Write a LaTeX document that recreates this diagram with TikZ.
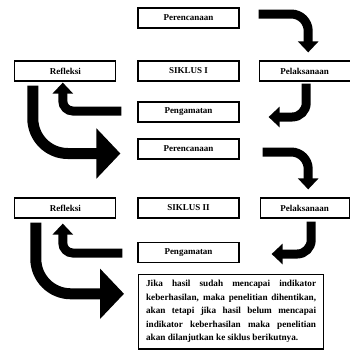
\documentclass[tikz,border=0pt]{standalone}
\usepackage{fontspec}
\setmainfont{Liberation Serif}
\usetikzlibrary{arrows.meta, positioning, calc}

\begin{document}
\begin{tikzpicture}[
    x=1pt, y=-1pt,
    box/.style={rectangle, draw, line width=1.2pt, minimum width=101pt, minimum height=20pt, inner sep=1pt, font=\fontsize{9}{10}\selectfont\bfseries},
    flow/.style={line width=9pt, rounded corners=#1, -{Triangle[length=11pt,width=20pt]}},
    flow/.default=15pt,
    bigflow/.style={line width=11pt, rounded corners=35pt, -{Triangle[length=24pt,width=49pt]}}
]
\useasboundingbox (0,0) rectangle (350,349);

\node[box] (plan1) at (188.5,18) {Perencanaan};
\node[box] (cyc1) at (188.5,71) {SIKLUS I};
\node[box, left=21pt of cyc1] (refl1) {Refleksi};
\node[box, minimum width=91pt, right=19pt of cyc1] (act1) {Pelaksanaan};
\node[box] (obs1) at (188.5,112) {Pengamatan};

\node[box] (plan2) at (188.5,149) {Perencanaan};
\node[box] (cyc2) at (188.5,208) {SIKLUS II};
\node[box, left=21pt of cyc2] (refl2) {Refleksi};
\node[box, minimum width=89pt, right=20pt of cyc2] (act2) {Pelaksanaan};
\node[box] (obs2) at (188.5,252.5) {Pengamatan};

\node[draw, line width=1.2pt, text width=170pt, inner xsep=7.5pt, inner ysep=6pt, align=justify, anchor=north west, font=\fontsize{9.2}{13.5}\selectfont\bfseries] (note) at (138,274)
    {Jika hasil sudah mencapai indikator\linebreak keberhasilan, maka penelitian dihentikan,\linebreak akan tetapi jika hasil belum mencapai\linebreak indikator keberhasilan maka penelitian\linebreak akan dilanjutkan ke siklus berikutnya.};

\draw[flow=17pt] ($(plan1.east)+(19,-4)$) -| ($(act1.north)+(3.5,-8)$);
\draw[flow=14pt] ($(act1.south)+(1.5,2)$) |- ($(obs1.east)+(29,5)$);
\draw[flow=10pt] ($(obs1.west)+(-16,-1)$) -| ($(refl1.south)+(-2.5,1)$);
\draw[bigflow] ($(refl1.south)+(-32.5,4)$) |- ($(plan2.west)+(-17,4.5)$);

\draw[flow=17pt] ($(plan2.east)+(23,3)$) -| ($(act2.north)+(3.5,-8)$);
\draw[flow=14pt] ($(act2.south)+(6.5,3)$) |- ($(obs2.east)+(32,1.5)$);
\draw[flow=10pt] ($(obs2.west)+(-15,0.5)$) -| ($(refl2.south)+(-2.5,5)$);
\draw[bigflow] ($(refl2.south)+(-29.5,4)$) |- ($(note.west)+(-14,-18)$);
\end{tikzpicture}
\end{document}
